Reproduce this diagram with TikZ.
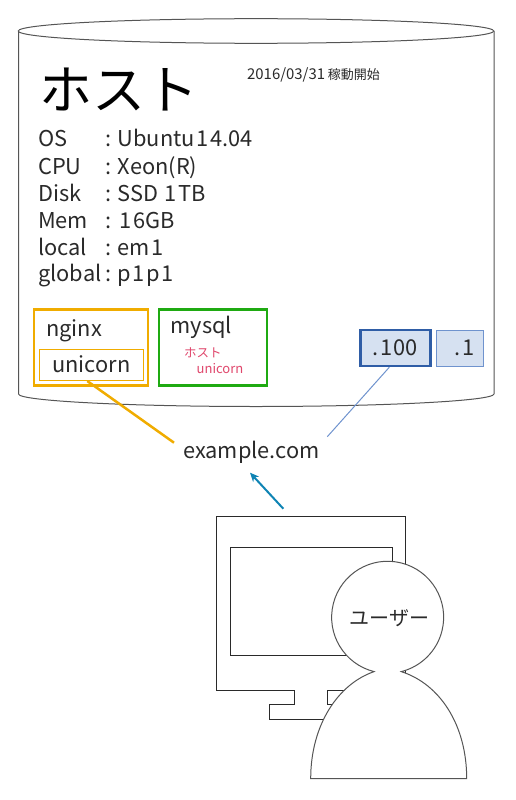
\documentclass[tikz,border=0pt]{standalone}
\usepackage{fontspec}
\usetikzlibrary{arrows.meta}
\setmainfont{Noto Sans CJK JP}
\definecolor{orangeline}{HTML}{F0AC00}
\definecolor{greenline}{HTML}{1FAA12}
\definecolor{bluedark}{HTML}{2F5DA6}
\definecolor{bluelight}{HTML}{6F93CE}
\definecolor{bluefill}{HTML}{D6E1F1}
\definecolor{tealline}{HTML}{0F84B4}
\definecolor{redtext}{HTML}{E0476C}
\definecolor{ink}{HTML}{2A2A2A}
\definecolor{outline}{HTML}{555555}
\newcommand{\fs}[1]{\fontsize{#1}{#1}\selectfont}
\newcommand{\one}{\hspace{1.6pt}1\hspace{1.6pt}}
\tikzset{
  x=1pt,y=-1pt,
  txt/.style={inner sep=0pt,anchor=base west,text=ink},
  spec/.style={txt,font=\fs{21.8}},
  boxlabel/.style={txt,font=\fs{21.8}},
  smalllabel/.style={txt,font=\fs{13},text=redtext},
  frame/.style={draw,inner sep=0pt,fill=none},
  addr/.style={frame,fill=bluefill,font=\fs{21.8},text=ink},
  shape line/.style={draw=outline,line width=1pt,fill=white},
  mon line/.style={draw=ink,line width=0.9pt,fill=white},
}
\begin{document}
\begin{tikzpicture}
\useasboundingbox (0,0) rectangle (515,800);
% host cylinder
\path[shape line] (18.5,31) -- (18.5,394) .. controls (18.5,401) and (130,406.5) .. (256,406.5)
  .. controls (382,406.5) and (494,401) .. (494,394) -- (494,31);
\path[shape line] (256,31) ellipse [x radius=237.7, y radius=12.3];
% heading
\node[txt,font=\fs{53},text=black] (title) at (39,109) {ホスト};
\node[txt,font=\fs{13}] (date) at (247,79) {{\fs{14.9}2016/03/31} 稼動開始};
% specs
\node[spec] (k1) at (38,146.7) {OS};      \node[spec] (v1) at (105,146.7) {: Ubuntu\one 4.04};
\node[spec] (k2) at (38,174) {CPU};       \node[spec] (v2) at (105,174) {: Xeon(R)};
\node[spec] (k3) at (38,201) {Disk};      \node[spec] (v3) at (105,201) {: SSD \one TB};
\node[spec] (k4) at (38,228) {Mem};       \node[spec] (v4) at (105,228) {: \one 6GB};
\node[spec] (k5) at (38,255) {local};     \node[spec] (v5) at (105,255) {: em\one};
\node[spec] (k6) at (38,281.5) {global};  \node[spec] (v6) at (105,281.5) {: p\one p\one};
% service boxes
\node[frame,draw=orangeline,line width=2.5pt,minimum width=114pt,minimum height=76pt] (nginx) at (91.2,347.5) {};
\node[boxlabel] (nginxl) at (46,336) {nginx};
\node[frame,draw=orangeline,line width=1.5pt,minimum width=104pt,minimum height=31pt] (unicorn) at (91.3,364.8) {};
\node[boxlabel] (unicornl) at (52,372) {unicorn};
\node[frame,draw=greenline,line width=2.5pt,minimum width=108pt,minimum height=76pt] (mysql) at (213,347.5) {};
\node[boxlabel] (mysqll) at (170.5,333.5) {mysql};
\node[smalllabel,font=\fs{12.5}] (hostl) at (184,357) {ホスト};
\node[smalllabel] (unil) at (196.5,373) {unicorn};
% addresses
\node[addr,draw=bluedark,line width=2.5pt,minimum width=70pt,minimum height=36pt] (a100) at (395.3,348) {.\one 00};
\node[addr,draw=bluelight,line width=1pt,minimum width=46.5pt,minimum height=36pt] (a1) at (460,348) {\hspace*{9pt}.\one};
% domain
\node[txt] (domain) at (183,458) {\fs{21.8}example.com};
\coordinate (domL) at (174,442.7);
\coordinate (domR) at (327.3,436.7);
\coordinate (domB) at (250,472.7);
\coordinate (monT) at (283.3,508.7);
\draw[orangeline,line width=2.5pt] ([xshift=-4pt]unicorn.south) -- (domL);
\draw[bluelight,line width=1pt] ([xshift=-6pt]a100.south) -- (domR);
\draw[tealline,line width=2pt,-{Stealth[length=9pt,width=8pt]}] (monT) -- (domB);
% monitor
\path[mon line] (216,516) -- (405.3,516) -- (405.3,690) -- (327.3,690) -- (327.3,704) -- (352,704) -- (352,719.7)
  -- (269.3,719.7) -- (269.3,704) -- (294.3,704) -- (294.3,690) -- (216,690) -- cycle;
\path[mon line] (230.3,547.7) rectangle (392.7,655.7);
% user
\path[shape line] (310.7,778.7) .. controls (310.7,725) and (338,684) .. (374.1,671.6)
  arc [start angle=104,end angle=436,radius=56]
  .. controls (440,684) and (466.7,725) .. (466.7,778.7) -- cycle;
\node[inner sep=0pt,text=ink,font=\fs{20}] (user) at (389.5,618.5) {ユーザー};
\end{tikzpicture}
\end{document}
